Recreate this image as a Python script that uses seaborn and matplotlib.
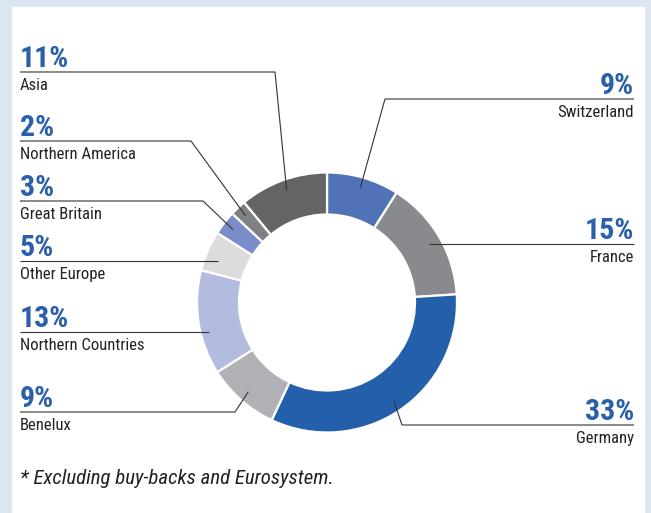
import numpy as np
import matplotlib
matplotlib.use("Agg")
import matplotlib.pyplot as plt
from matplotlib.patches import Rectangle
import seaborn as sns

# data: share of holdings by region, clockwise from 12 o'clock
countries = ["Switzerland", "France", "Germany", "Benelux", "Northern Countries",
             "Other Europe", "Great Britain", "Northern America", "Asia"]
shares = [9, 15, 33, 9, 13, 5, 3, 2, 11]
slice_colors = ["#5073b8", "#898a8e", "#235fab", "#b0b1b4", "#b3bcdf",
                "#dcdcdc", "#7a8dc8", "#7f8083", "#646467"]
footnote = "* Excluding buy-backs and Eurosystem."

# label layout (pixel rows of the leader lines, counted from the top)
label_side = ["right", "right", "right", "left", "left", "left", "left", "left", "left"]
label_row = [99, 244, 425, 412, 332, 261, 201, 141, 72]
elbow_x = [385, None, 402, 235, None, None, 203, 191, 275]

sns.set_theme(style="white")
narrow = ['Roboto Condensed', 'Archivo Narrow', 'Barlow Semi Condensed', 'DejaVu Sans']
plt.rcParams['font.family'] = narrow

W, H = 651, 513
fig = plt.figure(figsize=(W / 100, H / 100), dpi=100)
fig.patch.set_facecolor('#dce6f0')
ax = fig.add_axes([0, 0, 1, 1])

cx, cy, R = 327, H - 302.5, 130
pal = sns.color_palette(slice_colors)
ax.pie(shares, colors=pal, startangle=90, counterclock=False, radius=R,
       center=(cx, cy),
       wedgeprops=dict(width=42, edgecolor='white', linewidth=1.6))

ax.set_xlim(0, W)
ax.set_ylim(0, H)
ax.set_aspect('equal')
ax.axis('off')
ax.add_patch(Rectangle((12, 0), 632, H - 7, color='white', zorder=0))

# leader lines + labels
total = float(sum(shares))
cum = np.cumsum([0] + shares[:-1])
r_anchor = 119
for i, name in enumerate(countries):
    mid = (cum[i] + shares[i] / 2) / total
    th = 2 * np.pi * mid
    axx, axy = cx + r_anchor * np.sin(th), cy + r_anchor * np.cos(th)
    ly = H - label_row[i]
    if label_side[i] == "left":
        x0, ha = 20, 'left'
    else:
        x0, ha = 634, 'right'
    if elbow_x[i] is None:
        xs, ys = [x0, axx], [ly, ly]
    else:
        xs, ys = [x0, elbow_x[i], axx], [ly, ly, axy]
    ax.plot(xs, ys, color='#333333', lw=0.8, solid_capstyle='butt')
    ax.text(x0, ly + 5, f"{shares[i]}%", ha=ha, va='baseline',
            fontsize=21.5, fontweight='bold', color='#2a5fab')
    ax.text(x0, ly - 6, name, ha=ha, va='top', fontsize=12, color='#222222')

ax.text(20, H - 478, footnote, ha='left', va='center', fontsize=15,
        fontstyle='italic', color='#222222')

fig.savefig('out.png', dpi=100, facecolor=fig.get_facecolor())
